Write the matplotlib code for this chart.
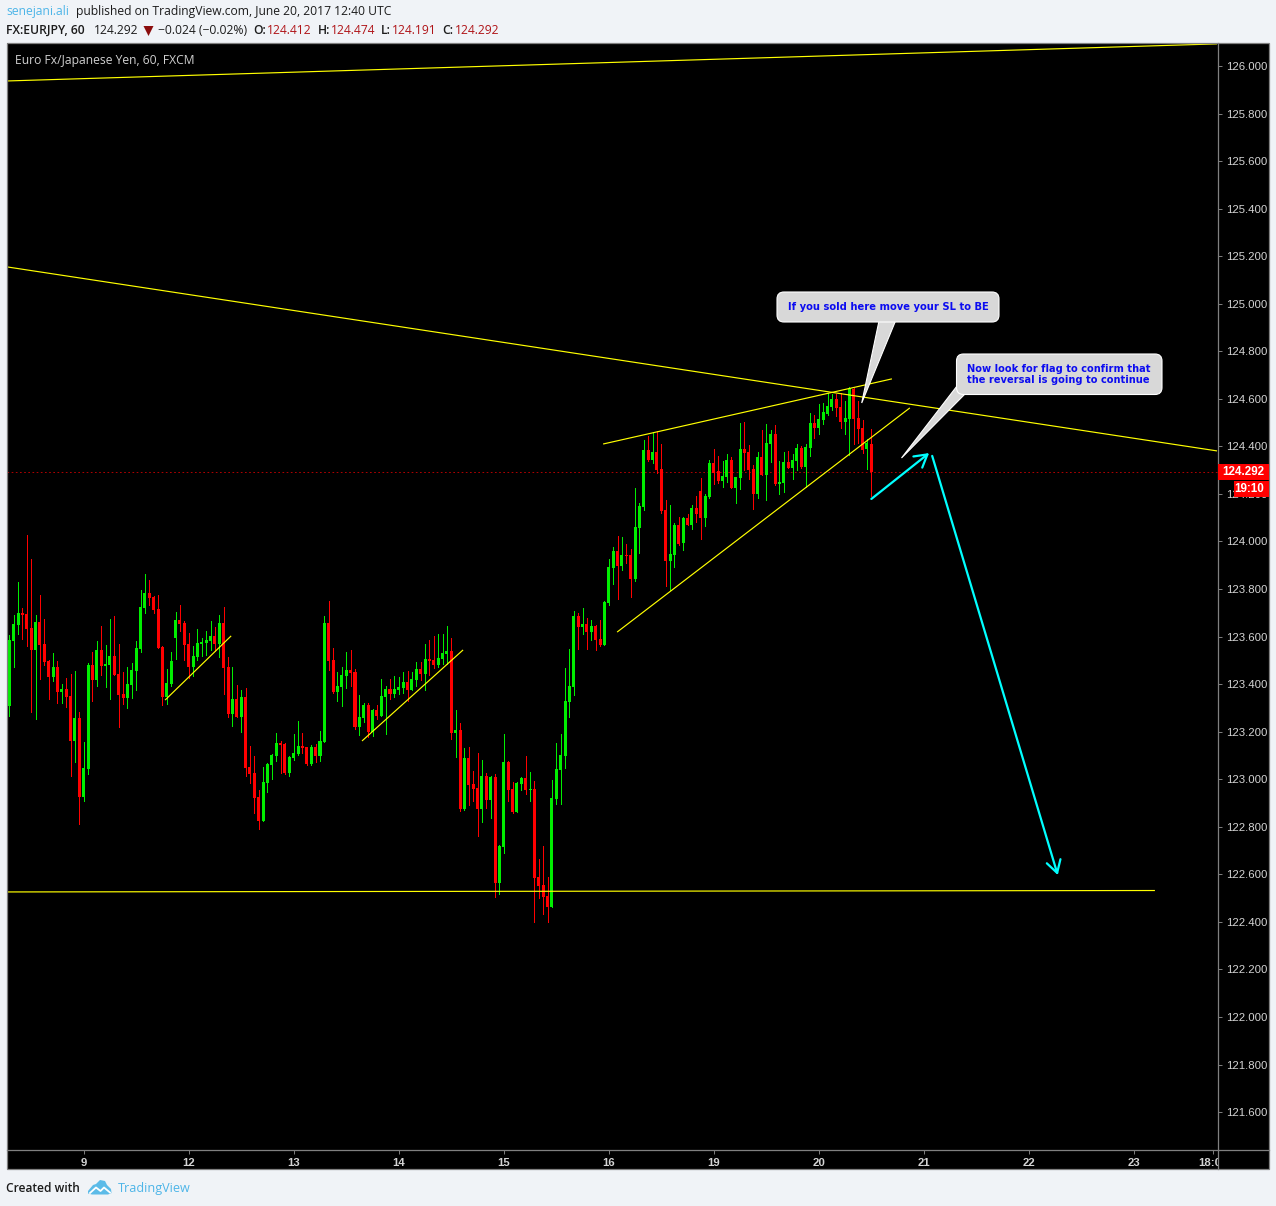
import matplotlib
matplotlib.use("Agg")
import matplotlib.pyplot as plt
from matplotlib.patches import Rectangle, FancyBboxPatch, Polygon
import numpy as np

# ---------- data ----------
opens = [123.308,123.581,123.649,123.699,123.695,123.636,123.544,123.661,123.569,123.497,123.430,123.472,123.367,123.379,123.350,123.161,123.258,122.925,123.043,123.480,
123.417,123.544,123.476,123.480,123.518,123.443,123.358,123.342,123.396,123.455,123.548,123.720,123.783,123.767,123.716,123.556,123.346,123.400,123.594,123.670,
123.657,123.569,123.472,123.514,123.569,123.573,123.581,123.602,123.569,123.657,123.472,123.274,123.338,123.262,123.346,123.052,123.026,122.925,122.824,122.984,
123.060,123.098,123.152,123.148,123.026,123.089,123.106,123.140,123.136,123.064,123.136,123.098,123.157,123.657,123.502,123.367,123.388,123.434,123.460,123.451,
123.220,123.258,123.312,123.199,123.291,123.266,123.346,123.380,123.359,123.375,123.384,123.409,123.375,123.417,123.464,123.443,123.506,123.502,123.481,123.506,
123.527,123.539,123.195,123.207,122.875,123.089,122.980,122.963,122.875,123.014,122.913,123.009,122.564,122.715,123.073,122.959,122.862,122.980,123.005,122.955,
122.959,122.589,122.555,122.509,122.463,122.917,123.039,123.098,123.325,123.388,123.687,123.640,123.653,123.619,123.645,123.590,123.565,123.741,123.889,123.960,
123.897,123.943,123.943,123.842,124.057,124.145,124.385,124.343,124.376,124.305,124.132,123.918,123.943,124.069,123.994,124.099,124.069,124.141,124.212,124.099,
124.187,124.330,124.296,124.254,124.271,124.343,124.225,124.267,124.389,124.376,124.305,124.200,124.356,124.280,124.410,124.452,124.242,124.246,124.335,124.309,
124.339,124.393,124.313,124.393,124.499,124.478,124.511,124.536,124.566,124.599,124.566,124.503,124.515,124.642,124.520,124.478,124.389,124.412]
closes = [123.586,123.653,123.699,123.691,123.632,123.544,123.661,123.565,123.493,123.430,123.472,123.367,123.379,123.346,123.161,123.258,122.925,123.047,123.480,123.417,
123.544,123.476,123.485,123.518,123.438,123.354,123.342,123.400,123.460,123.552,123.724,123.783,123.762,123.712,123.552,123.346,123.405,123.497,123.670,123.653,
123.565,123.472,123.518,123.573,123.577,123.586,123.602,123.569,123.657,123.468,123.274,123.338,123.262,123.346,123.047,123.022,122.921,122.824,122.988,123.064,
123.102,123.152,123.144,123.026,123.094,123.110,123.140,123.131,123.064,123.136,123.098,123.161,123.657,123.497,123.367,123.392,123.438,123.460,123.447,123.220,
123.262,123.312,123.199,123.291,123.266,123.350,123.380,123.359,123.380,123.388,123.409,123.375,123.422,123.464,123.443,123.506,123.497,123.481,123.510,123.531,
123.539,123.195,123.207,122.875,123.089,122.976,122.959,122.875,123.014,122.913,123.009,122.564,122.719,123.073,122.955,122.862,122.984,123.005,122.955,122.959,
122.585,122.551,122.505,122.463,122.921,123.043,123.102,123.329,123.392,123.687,123.640,123.653,123.619,123.645,123.586,123.565,123.746,123.893,123.960,123.897,
123.943,123.939,123.842,124.061,124.149,124.385,124.343,124.376,124.301,124.128,123.918,123.947,124.069,123.989,124.099,124.069,124.141,124.116,124.099,124.191,
124.330,124.288,124.254,124.275,124.343,124.225,124.271,124.389,124.372,124.301,124.200,124.355,124.280,124.414,124.452,124.242,124.250,124.335,124.309,124.343,
124.393,124.313,124.398,124.499,124.478,124.515,124.545,124.570,124.599,124.562,124.503,124.520,124.644,124.515,124.473,124.385,124.414,124.292]
highs = [123.607,123.691,123.830,123.720,124.027,123.926,123.691,123.775,123.674,123.502,123.531,123.497,123.400,123.426,123.443,123.455,123.283,123.157,123.489,123.535,
123.581,123.645,123.565,123.674,123.687,123.569,123.451,123.472,123.489,123.581,123.796,123.863,123.838,123.771,123.775,123.560,123.464,123.535,123.703,123.733,
123.666,123.615,123.560,123.632,123.594,123.624,123.666,123.640,123.691,123.724,123.514,123.472,123.396,123.375,123.384,123.140,123.098,122.955,123.052,123.068,
123.106,123.195,123.161,123.152,123.098,123.190,123.245,123.195,123.136,123.144,123.148,123.203,123.687,123.750,123.552,123.451,123.472,123.535,123.544,123.464,
123.354,123.321,123.321,123.295,123.312,123.422,123.392,123.422,123.434,123.430,123.451,123.455,123.451,123.493,123.493,123.569,123.586,123.603,123.611,123.611,
123.645,123.594,123.291,123.237,123.131,123.136,123.035,123.110,123.081,123.026,123.014,123.022,122.723,123.190,123.077,122.988,122.988,123.009,123.098,123.031,
122.993,122.665,122.719,122.589,122.997,123.152,123.190,123.468,123.548,123.708,123.699,123.720,123.678,123.670,123.649,123.670,123.750,123.926,123.977,124.023,
124.019,123.989,123.968,124.225,124.162,124.427,124.444,124.461,124.465,124.410,124.175,124.153,124.078,124.103,124.103,124.116,124.153,124.191,124.267,124.200,
124.343,124.389,124.360,124.339,124.368,124.355,124.271,124.498,124.503,124.406,124.322,124.376,124.469,124.494,124.469,124.490,124.339,124.377,124.381,124.368,
124.410,124.402,124.410,124.541,124.532,124.578,124.583,124.625,124.621,124.621,124.625,124.591,124.650,124.646,124.591,124.511,124.431,124.474]
lows = [123.266,123.473,123.611,123.590,123.560,123.283,123.253,123.422,123.480,123.338,123.413,123.320,123.320,123.304,123.014,123.072,122.812,122.908,123.022,123.329,
123.392,123.438,123.388,123.338,123.438,123.220,123.316,123.300,123.342,123.375,123.535,123.699,123.733,123.699,123.552,123.312,123.316,123.392,123.506,123.624,
123.502,123.426,123.434,123.502,123.518,123.522,123.544,123.539,123.514,123.358,123.262,123.224,123.262,123.199,123.014,122.984,122.858,122.791,122.824,122.946,
123.001,123.077,123.026,123.022,123.014,123.081,123.102,123.110,123.060,123.060,123.073,123.077,123.157,123.460,123.363,123.329,123.308,123.384,123.392,123.211,
123.186,123.241,123.178,123.182,123.253,123.266,123.190,123.338,123.346,123.359,123.363,123.329,123.375,123.392,123.417,123.375,123.438,123.468,123.472,123.485,
123.485,123.169,123.094,122.866,122.871,122.892,122.909,122.761,122.820,122.879,122.837,122.505,122.517,122.690,122.909,122.858,122.862,122.955,122.938,122.909,
122.400,122.501,122.433,122.400,122.463,122.896,122.896,123.047,123.262,123.354,123.548,123.611,123.548,123.586,123.544,123.560,123.565,123.733,123.821,123.758,
123.880,123.910,123.767,123.834,123.952,124.132,124.339,124.330,124.288,124.120,123.813,123.796,123.893,123.985,123.964,124.069,124.053,124.082,124.010,124.065,
124.183,124.242,124.246,124.229,124.250,124.225,124.162,124.221,124.301,124.263,124.137,124.183,124.280,124.175,124.335,124.238,124.200,124.208,124.309,124.263,
124.301,124.309,124.229,124.360,124.435,124.452,124.494,124.532,124.553,124.528,124.478,124.452,124.364,124.410,124.414,124.372,124.305,124.191]

price_ticks = [121.6,121.8,122.0,122.2,122.4,122.6,122.8,123.0,123.2,123.4,123.6,123.8,124.0,124.2,124.4,124.6,124.8,125.0,125.2,125.4,125.6,125.8,126.0]
day_positions = [17,41,65,89,113,137,161,185,209,233,257,275]
day_labels = ["9","12","13","14","15","16","19","20","21","22","23","18:00"]
last_price = 124.292

# trend lines: (bar, price) end points
trend_lines = [
    ((-0.53,125.937),(276,126.093)),
    ((-0.53,125.155),(276,124.381)),
    ((-0.53,122.526),(261.8,122.532)),
    ((135.7,124.410),(201.7,124.684)),
    ((138.9,123.619),(205.8,124.562)),
    ((35.6,123.333),(50.7,123.603)),
    ((80.6,123.161),(103.7,123.544)),
]
arrows = [
    ((197.0,124.179),(210.2,124.372)),
    ((210.9,124.360),(239.6,122.597)),
]

# ---------- layout ----------
W, H = 1276, 1206
BG = "#f0f3f7"
GRAY = "#808080"
TXT = "#d4d4d4"
fig = plt.figure(figsize=(W/100, H/100), dpi=100, facecolor=BG)

def px_ax(l, t, r, b, **kw):
    return fig.add_axes([l/W, 1-b/H, (r-l)/W, (b-t)/H], **kw)

under = fig.add_axes([0,0,1,1], zorder=0)
under.set_xlim(0,W); under.set_ylim(H,0); under.axis("off")
under.add_patch(Rectangle((6.5,43),1262.5,1126,fc="black",ec="none"))

ax = px_ax(7,43,1217.5,1150, zorder=1, facecolor="black")
ax.set_xlim(-0.525,276.1)
ax.set_ylim(121.4406,126.0967)

o = np.array(opens); c = np.array(closes); hi = np.array(highs); lo = np.array(lows)
x = np.arange(len(o))
up = c >= o
RED, GREEN = "#ff0000", "#00ee00"
cols = [GREEN if u else RED for u in up]
ax.vlines(x, lo, hi, colors=cols, lw=0.72, antialiased=False, zorder=2)
ax.bar(x, np.maximum(np.abs(c-o),0.004), bottom=np.minimum(o,c), width=0.69, color=cols,
       antialiased=False, linewidth=0, zorder=3)

for (a,b) in trend_lines:
    ax.plot([a[0],b[0]],[a[1],b[1]],color="#ffff00",lw=0.85,zorder=4,solid_capstyle="butt")
for (a,b) in arrows:
    ax.annotate("",xy=b,xytext=a,zorder=6,
                arrowprops=dict(arrowstyle="->,head_length=0.55,head_width=0.32",color="#00ffff",lw=1.6,
                                mutation_scale=16,shrinkA=0,shrinkB=0))
ax.axhline(last_price,color="#d00000",lw=0.6,ls=(0,(2,3)),zorder=1)

for s in ax.spines.values():
    s.set_visible(False)
ax.yaxis.tick_right()
ax.set_yticks(price_ticks)
ax.set_yticklabels([f"{p:.3f}" for p in price_ticks],fontfamily="Liberation Sans",fontsize=8.2,color=TXT)
ax.tick_params(axis="y",length=3.2,width=0.7,color=GRAY,pad=3)
ax.set_xticks(day_positions)
ax.set_xticklabels(day_labels,fontfamily="Liberation Sans",fontsize=8.2,color=TXT,fontweight="bold")
ax.tick_params(axis="x",length=3.2,width=0.7,color=GRAY,pad=2.4)

# ---------- overlay in pixels ----------
ov = fig.add_axes([0,0,1,1], zorder=3)
ov.set_xlim(0,W); ov.set_ylim(H,0); ov.axis("off"); ov.patch.set_alpha(0)

ov.add_patch(Rectangle((1218,1151),51,18,fc="black",ec="none",zorder=1))
ov.add_patch(Rectangle((6.5,43),1262.5,1126,fc="none",ec=GRAY,lw=0.9,zorder=2))
ov.plot([1217.5,1217.5],[43,1169],color=GRAY,lw=0.9,zorder=2)
ov.plot([6.5,1269],[1150,1150],color=GRAY,lw=0.9,zorder=2)

# price tags
ov.add_patch(Rectangle((1218,464),51,16,fc="#ff0000",ec="none",zorder=3))
ov.text(1264,472,f"{last_price:.3f}",color="white",fontfamily="Liberation Sans",fontsize=8.4,fontweight="bold",ha="right",va="center",zorder=4)
ov.add_patch(Rectangle((1234,481),35,16,fc="#ff0000",ec="none",zorder=3))
ov.text(1264,489.5,"19:10",color="white",fontfamily="Liberation Sans",fontsize=8.4,fontweight="bold",ha="right",va="center",zorder=4)

# callouts
def callout(l,t,r,b,tail):
    ov.add_patch(Polygon(tail,closed=True,fc="#d8d8d8",ec="white",lw=0.8,zorder=5))
    ov.add_patch(FancyBboxPatch((l+7,t+7),r-l-14,b-t-14,boxstyle="round,pad=7,rounding_size=7",
                                fc="#d8d8d8",ec="white",lw=0.8,zorder=6))
    # hide the seam where tail meets box
    ov.add_patch(Polygon(tail[:1]+tail[2:],closed=True,fc="#d8d8d8",ec="none",zorder=7))
callout(777,292,999,322,[(879,321),(861.7,403),(895.5,321)])
callout(956.5,354,1162,394.5,[(957,386),(901.5,458),(965,394)])
font_note = dict(fontfamily="DejaVu Sans",fontweight="bold",color="#0c0cf0",zorder=8,va="center")
ov.text(888,306.5,"If you sold here move your SL to BE",ha="center",fontsize=7.2,**font_note)
ov.text(967,369.5,"Now look for flag to confirm that",ha="left",fontsize=7.15,**font_note)
ov.text(967,380,"the reversal is going to continue",ha="left",fontsize=7.15,**font_note)

ov.text(15,60.5,"Euro Fx/Japanese Yen, 60, FXCM",color="#d0d0d0",fontfamily="Open Sans",fontsize=8.7,va="center",zorder=8)

# header
DARK = "#1c1c1c"; DRED = "#b01418"; BLUE = "#4db5e8"
hf = dict(fontfamily="Open Sans",fontsize=8.7,va="center")
ov.text(6,12,"senejani.ali",color=BLUE,**hf)
ov.text(76,12,"published on TradingView.com, June 20, 2017 12:40 UTC",color=DARK,**hf)
ov.text(6,30,"FX:EURJPY, 60",color=DARK,fontweight="semibold",**hf)
ov.text(94,30,"124.292",color=DARK,**hf)
ov.add_patch(Polygon([(143.5,26),(153.5,26),(148.5,36)],closed=True,fc="#8b0d0d",ec="none"))
ov.text(158,30,"\u22120.024 (\u22120.02%)",color=DARK,**hf)
for lx,ltxt,vx,vtxt in [(253,"O:",267,"124.412"),(318,"H:",331,"124.474"),(381,"L:",392,"124.191"),(442,"C:",455,"124.292")]:
    ov.text(lx,30,ltxt,color=DARK,fontweight="semibold",**hf)
    ov.text(vx,30,vtxt,color=DRED,**hf)

# footer
ov.text(6,1188.5,"Created with",color=DARK,fontfamily="Open Sans",fontweight="semibold",fontsize=8.6,va="center")
ov.add_patch(Polygon([(88,1191),(93,1185),(96,1184),(100,1180),(105,1181),(107,1185),(111,1189),(111.5,1193),(108,1194.5),(92,1194.5),(88,1193.5)],
                     closed=True,fc="#5cbbe8",ec="none"))
ov.plot([90,96,100.5,104,110],[1193,1187.5,1191,1187.5,1192.5],color="white",lw=1.3)
ov.text(118,1188.5,"TradingView",color=BLUE,fontfamily="Open Sans",fontsize=9.1,va="center")

fig.savefig("out.png",dpi=100,facecolor=BG)
